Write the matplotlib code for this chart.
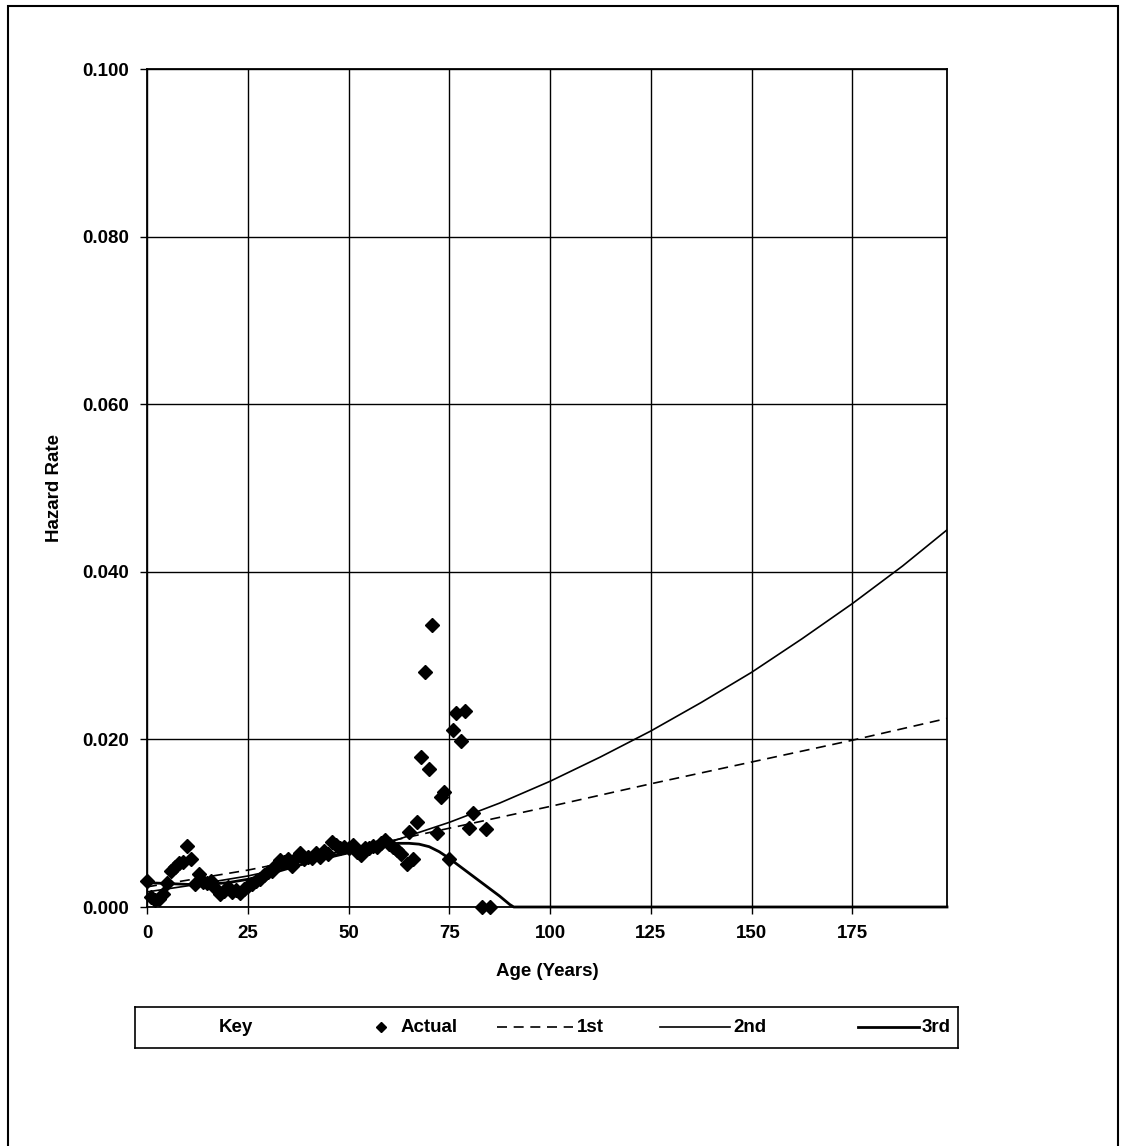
import matplotlib
matplotlib.use('agg')
import numpy as np
import matplotlib.pyplot as plt
from matplotlib.patches import Rectangle
from matplotlib.lines import Line2D

plt.rcParams['font.family'] = ['Liberation Sans', 'DejaVu Sans']

# observed hazard rates (age in years, rate)
actual_age = [0, 1, 2, 3, 4, 5, 6, 7, 8, 9, 10, 11, 12, 13, 14, 15, 16, 17, 18, 19,
              20, 21, 22, 23, 24, 25, 26, 27, 28, 29, 30, 31, 32, 33, 34, 35, 36, 37, 38, 39,
              40, 41, 42, 43, 44, 45, 46, 47, 48, 49, 50, 51, 52, 53, 54, 55, 56, 57, 58, 59,
              60, 61, 62, 63, 64.5, 65, 66, 67, 68, 69, 70, 70.8, 72, 73, 73.7, 75, 76, 76.7,
              78, 79, 80, 81, 83, 84, 85]
actual_rate = [0.0031, 0.0012, 0.0008, 0.0010, 0.0016, 0.0029, 0.0043, 0.0048, 0.0052, 0.0054,
               0.0073, 0.0057, 0.0028, 0.0039, 0.0030, 0.0029, 0.0031, 0.0022, 0.0015, 0.0019,
               0.0024, 0.0018, 0.0020, 0.0017, 0.0022, 0.0025, 0.0027, 0.0031, 0.0034, 0.0038,
               0.0042, 0.0043, 0.0050, 0.0056, 0.0054, 0.0057, 0.0049, 0.0058, 0.0064, 0.0057,
               0.0060, 0.0058, 0.0065, 0.0060, 0.0067, 0.0063, 0.0078, 0.0074, 0.0070, 0.0072,
               0.0071, 0.0074, 0.0066, 0.0062, 0.0071, 0.0070, 0.0073, 0.0072, 0.0076, 0.0080,
               0.0075, 0.0072, 0.0068, 0.0063, 0.0051, 0.0090, 0.0057, 0.0101, 0.0179, 0.0280,
               0.0165, 0.0337, 0.0088, 0.0131, 0.0137, 0.0057, 0.0211, 0.0232,
               0.0198, 0.0234, 0.0094, 0.0112, 0.0, 0.0093, 0.0]

# fitted curves
first_age = [0, 25, 50, 75, 100, 125, 150, 175, 198.5]
first_rate = [0.0024, 0.0044, 0.0068, 0.0094, 0.0120, 0.0147, 0.0173, 0.0199, 0.0225]

second_age = [0, 12.5, 25, 37.5, 50, 62.5, 75, 87.5, 100, 112.5, 125, 137.5, 150,
              162.5, 175, 187.5, 198.5]
second_rate = [0.0018, 0.0027, 0.0037, 0.0050, 0.0064, 0.0081, 0.0101, 0.0124, 0.0150,
               0.0179, 0.0210, 0.0244, 0.0280, 0.0320, 0.0362, 0.0407, 0.0450]

third_age = [0, 5, 10, 15, 20, 25, 30, 35, 40, 45, 50, 55, 60, 62.5, 65, 67.5, 70, 72.5,
             75, 77.5, 80, 82.5, 85, 87.5, 90, 91, 198.5]
third_rate = [0.0029, 0.0028, 0.0027, 0.0027, 0.0029, 0.0033, 0.0039, 0.0046, 0.0053,
              0.0060, 0.0066, 0.0071, 0.0075, 0.0076, 0.0076, 0.0075, 0.0072, 0.0066,
              0.0058, 0.0049, 0.0040, 0.0031, 0.0022, 0.0013, 0.0003, 0.0, 0.0]

x_ticks = [0, 25, 50, 75, 100, 125, 150, 175]
y_ticks = [0.0, 0.02, 0.04, 0.06, 0.08, 0.10]

W, H = 1126, 1146
FS = 13.5
DASH = (0, (6, 4))
fig = plt.figure(figsize=(W / 100, H / 100), dpi=100)

# axes in pixel terms of the original page
ax = fig.add_axes([147 / W, 1 - 907 / H, 800 / W, 838 / H])

ax.plot(first_age, first_rate, color='black', lw=1.2, ls=DASH, zorder=3)
ax.plot(second_age, second_rate, color='black', lw=1.2, zorder=3)
ax.plot(third_age, third_rate, color='black', lw=2.0, zorder=3, clip_on=False)
ax.plot(actual_age, actual_rate, ls='none', marker='D', markersize=7,
        color='black', zorder=4, clip_on=False)

ax.set_xlim(0, 198.5)
ax.set_ylim(0, 0.1)
ax.set_xticks(x_ticks)
ax.set_yticks(y_ticks)
ax.set_xticklabels([str(t) for t in x_ticks])
ax.set_yticklabels(['%.3f' % t for t in y_ticks])
ax.grid(True, color='black', lw=1.0)
ax.set_axisbelow(True)
for s in ax.spines.values():
    s.set_linewidth(1.3)
ax.tick_params(direction='out', length=5, width=1, labelsize=FS, pad=8)
for lab in ax.get_xticklabels() + ax.get_yticklabels():
    lab.set_fontweight('bold')

ax.set_xlabel('Age (Years)', fontsize=FS, fontweight='bold', labelpad=15)
ax.set_ylabel('Hazard Rate', fontsize=FS, fontweight='bold', labelpad=14)

# key box below the plot
lx0, lx1, ly0, ly1 = 135, 958, 1007, 1048
lax = fig.add_axes([lx0 / W, 1 - ly1 / H, (lx1 - lx0) / W, (ly1 - ly0) / H])
lax.set_xlim(lx0, lx1)
lax.set_ylim(ly1, ly0)
lax.set_xticks([])
lax.set_yticks([])
for s in lax.spines.values():
    s.set_linewidth(1.2)
ym = (ly0 + ly1) / 2
lax.text(236, ym, 'Key', ha='center', va='center', fontsize=FS, fontweight='bold')
lax.add_line(Line2D([381], [ym], marker='D', markersize=5.5, color='black'))
lax.text(401, ym, 'Actual', ha='left', va='center', fontsize=FS, fontweight='bold')
lax.add_line(Line2D([497, 573], [ym, ym], color='black', lw=1.2, ls=DASH))
lax.text(577, ym, '1st', ha='left', va='center', fontsize=FS, fontweight='bold')
lax.add_line(Line2D([660, 730], [ym, ym], color='black', lw=1.2))
lax.text(733, ym, '2nd', ha='left', va='center', fontsize=FS, fontweight='bold')
lax.add_line(Line2D([858, 919], [ym, ym], color='black', lw=2.0))
lax.text(922, ym, '3rd', ha='left', va='center', fontsize=FS, fontweight='bold')

# page frame
fig.add_artist(Rectangle((8 / W, -0.01), (1118 - 8) / W, 1.01 - 6 / H,
                         transform=fig.transFigure, fill=False, lw=1.5, color='black'))

fig.savefig('out.png', dpi=100)
